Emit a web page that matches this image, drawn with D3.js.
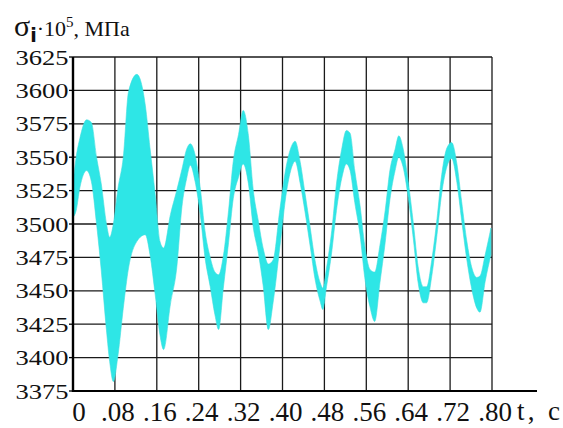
<!DOCTYPE html>
<html>
<head>
    <meta charset="UTF-8">
    <script src="https://d3js.org/d3.v7.min.js"></script>
</head>
<body style="margin:0">
    <div id="chart"></div>

    <script>
        // Signal envelope: time (s), upper and lower edge of the trace
        const time = [
            0, 0.006, 0.013, 0.026, 0.035, 0.045, 0.054, 0.064, 0.070, 0.077, 0.086, 0.096, 0.106, 0.122, 0.138, 0.147, 0.157, 0.166, 0.173, 0.186, 0.198,
            0.208, 0.217, 0.224, 0.233, 0.243, 0.252, 0.262, 0.271, 0.278, 0.287, 0.297, 0.306, 0.316, 0.325, 0.335, 0.344, 0.354, 0.363, 0.373, 0.382, 0.395,
            0.408, 0.418, 0.424, 0.434, 0.443, 0.453, 0.462, 0.472, 0.477, 0.484, 0.494, 0.503, 0.513, 0.522, 0.529, 0.538, 0.548, 0.557, 0.567, 0.576, 0.586, 0.596, 0.605,
            0.615, 0.622, 0.630, 0.640, 0.650, 0.659, 0.669, 0.675, 0.685, 0.695, 0.704, 0.714, 0.723, 0.733, 0.742, 0.752, 0.761, 0.771, 0.777, 0.787, 0.798
        ];
        const upper = [
            3530, 3550, 3564, 3578, 3576, 3550, 3530, 3500, 3490, 3500, 3527, 3550, 3599, 3612, 3589, 3557, 3522, 3487, 3482, 3507, 3525,
            3541, 3556, 3560, 3552, 3527, 3495, 3475, 3464, 3462, 3476, 3510, 3547, 3567, 3585, 3566, 3526, 3502, 3482, 3470, 3473, 3511,
            3545, 3559, 3562, 3546, 3523, 3497, 3473, 3456, 3452, 3467, 3495, 3530, 3556, 3570, 3568, 3540, 3514, 3484, 3466, 3464, 3484, 3510, 3540,
            3556, 3566, 3557, 3532, 3500, 3468, 3453, 3453, 3473, 3504, 3537, 3557, 3561, 3545, 3517, 3487, 3468, 3460, 3461, 3477, 3497
        ];
        const lower = [
            3505, 3510, 3527, 3540, 3532, 3500, 3465, 3420, 3397, 3382, 3402, 3437, 3467, 3487, 3492, 3477, 3447, 3417, 3406, 3440, 3467,
            3513, 3534, 3544, 3532, 3507, 3475, 3453, 3432, 3421, 3452, 3486, 3519, 3535, 3545, 3530, 3498, 3478, 3454, 3421, 3441, 3483,
            3525, 3543, 3547, 3530, 3509, 3483, 3459, 3442, 3436, 3453, 3479, 3510, 3534, 3545, 3540, 3516, 3492, 3460, 3438, 3427, 3456, 3486, 3518,
            3540, 3550, 3543, 3520, 3488, 3456, 3441, 3441, 3461, 3492, 3523, 3543, 3549, 3531, 3503, 3473, 3452, 3437, 3434, 3457, 3477
        ];

        // Axis ticks
        const yTicks = [3375, 3400, 3425, 3450, 3475, 3500, 3525, 3550, 3575, 3600, 3625];
        const xTicks = [0, 0.08, 0.16, 0.24, 0.32, 0.40, 0.48, 0.56, 0.64, 0.72, 0.80];
        const xTickLabels = ["0", ".08", ".16", ".24", ".32", ".40", ".48", ".56", ".64", ".72", ".80"];

        const width = 563;
        const height = 428;
        const margin = {top: 57, right: 71, bottom: 37, left: 73};
        const serif = "serif";

        const svg = d3.select("#chart")
            .append("svg")
            .attr("width", width)
            .attr("height", height);

        const x = d3.scaleLinear()
            .domain([0, 0.8])
            .range([margin.left, width - margin.right]);

        const y = d3.scaleLinear()
            .domain([3375, 3625])
            .range([height - margin.bottom, margin.top]);

        // Grid
        svg.append("g")
            .selectAll("line")
            .data(yTicks)
            .join("line")
            .attr("x1", x(0))
            .attr("x2", x(0.8))
            .attr("y1", d => y(d))
            .attr("y2", d => y(d))
            .attr("stroke", "#1a1a1a")
            .attr("stroke-width", 1.3);

        svg.append("g")
            .selectAll("line")
            .data(xTicks)
            .join("line")
            .attr("x1", d => x(d))
            .attr("x2", d => x(d))
            .attr("y1", y(3625))
            .attr("y2", y(3375))
            .attr("stroke", "#1a1a1a")
            .attr("stroke-width", 1.3);

        // Signal band
        const idx = d3.range(time.length);
        const area = d3.area()
            .x(i => x(time[i]))
            .y0(i => y(lower[i]))
            .y1(i => y(upper[i]))
            .curve(d3.curveMonotoneX);

        svg.append("path")
            .attr("d", area(idx))
            .attr("fill", "#2ee6e6")
            .attr("stroke", "#3fdede")
            .attr("stroke-width", 0.6);

        // Axes lines
        svg.append("line")
            .attr("x1", x(0)).attr("x2", x(0))
            .attr("y1", y(3625)).attr("y2", y(3375) + 1)
            .attr("stroke", "#000")
            .attr("stroke-width", 2.4);

        svg.append("line")
            .attr("x1", x(0)).attr("x2", 537)
            .attr("y1", y(3375)).attr("y2", y(3375))
            .attr("stroke", "#000")
            .attr("stroke-width", 2);

        // Y tick marks and labels
        svg.append("g")
            .selectAll("line")
            .data(yTicks)
            .join("line")
            .attr("x1", x(0) - 4)
            .attr("x2", x(0))
            .attr("y1", d => y(d))
            .attr("y2", d => y(d))
            .attr("stroke", "#000")
            .attr("stroke-width", 1.3);

        svg.append("g")
            .selectAll("text")
            .data(yTicks)
            .join("text")
            .attr("x", 15.5)
            .attr("y", d => y(d) + 7.5)
            .style("font-family", serif)
            .attr("font-size", 21)
            .attr("fill", "#111")
            .attr("textLength", 53)
            .attr("lengthAdjust", "spacingAndGlyphs")
            .text(d => d);

        // X tick labels
        svg.append("g")
            .selectAll("text")
            .data(xTicks)
            .join("text")
            .attr("x", (d, i) => x(d) + (i === 0 ? 6 : 3))
            .attr("y", 421)
            .style("font-family", serif)
            .attr("font-size", 27)
            .attr("fill", "#111")
            .attr("text-anchor", "middle")
            .text((d, i) => xTickLabels[i]);

        // Axis titles
        svg.append("text")
            .attr("x", 517)
            .attr("y", 420)
            .style("font-family", serif)
            .attr("font-size", 27)
            .attr("fill", "#111")
            .attr("textLength", 43)
            .attr("lengthAdjust", "spacing")
            .text("t, c");

        const title = svg.append("text")
            .attr("x", 14)
            .attr("y", 36)
            .style("font-family", serif)
            .attr("font-size", 22)
            .attr("fill", "#111");
        title.append("tspan").attr("font-size", 30).text("σ");
        title.append("tspan")
            .attr("font-size", 19)
            .attr("font-weight", "bold")
            .style("font-family", "DejaVu Sans")
            .attr("dy", 6)
            .text("i");
        title.append("tspan").attr("dy", -6).text("·10");
        title.append("tspan").attr("font-size", 15).attr("dy", -9).text("5");
        title.append("tspan").attr("dy", 9).text(", МПа");
    </script>
</body>
</html>
